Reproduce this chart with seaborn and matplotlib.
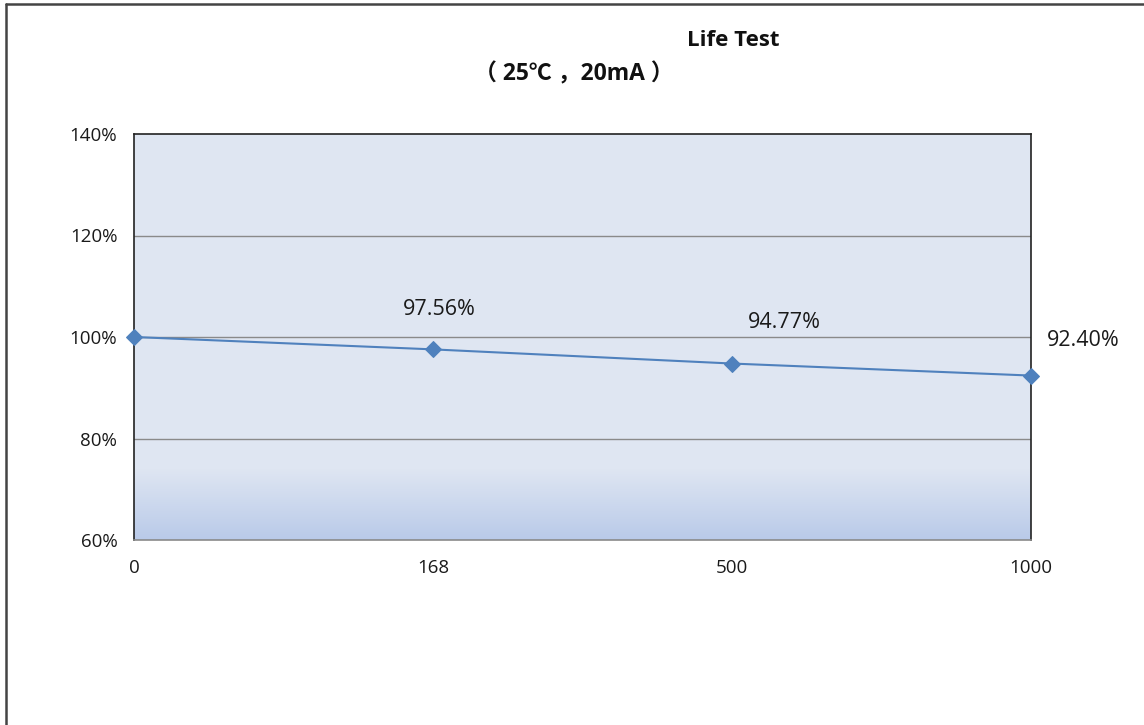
import matplotlib
matplotlib.use("Agg")
import matplotlib.pyplot as plt
import numpy as np
import pandas as pd
import seaborn as sns
from matplotlib.colors import LinearSegmentedColormap
from matplotlib.lines import Line2D

# datos del ensayo de vida
hours = ["0", "168", "500", "1000"]
retention = [100.0, 97.56, 94.77, 92.40]
point_labels = ["", "97.56%", "94.77%", "92.40%"]
yticks = [60, 80, 100, 120, 140]

df = pd.DataFrame({"pos": np.arange(len(hours)), "hours": hours, "retention": retention})

sns.set_theme(style="white")
plt.rcParams["font.family"] = ["Open Sans", "Noto Sans CJK SC", "DejaVu Sans"]

fig = plt.figure(figsize=(11.44, 7.25), dpi=100)
ax = fig.add_axes([134 / 1144, 1 - 540 / 725, (1031 - 134) / 1144, (540 - 134) / 725])

# fondo con degradado en la parte baja (fila 0 = arriba)
grad = np.ones((406, 1))
n_grad = 72
grad[-n_grad:, 0] = np.linspace(1.0, 0.0, n_grad)
cmap = LinearSegmentedColormap.from_list("bg", ["#b9cae9", "#dfe6f2"])
ax.imshow(grad, extent=[0, 1, 0, 1], transform=ax.transAxes, aspect="auto",
          cmap=cmap, vmin=0, vmax=1, zorder=0)

for y in yticks[1:-1]:
    ax.axhline(y, color="#8a8a8a", lw=1.0, zorder=1)

sns.lineplot(data=df, x="pos", y="retention", ax=ax, color="#4f81bd", lw=1.5,
             marker="D", markersize=8, markeredgecolor="#4f81bd", zorder=3, clip_on=False)

offsets = [(0, 0), (6, 40), (52, 41), (52, 35)]
for x, y, lab, off in zip(df["pos"], df["retention"], point_labels, offsets):
    if lab:
        ax.annotate(lab, (x, y), xytext=off, textcoords="offset pixels",
                    ha="center", va="center", fontsize=15.5, color="#1a1a1a")

ax.set_xlim(0, len(hours) - 1)
ax.set_ylim(60, 140)
ax.set_xticks(df["pos"])
ax.set_xticklabels(hours)
ax.set_yticks(yticks)
ax.set_yticklabels([f"{v}%" for v in yticks])
ax.tick_params(axis="both", length=0, labelsize=13.5, colors="#1a1a1a")
ax.tick_params(axis="x", pad=14)
ax.tick_params(axis="y", pad=12)
ax.set_xlabel("")
ax.set_ylabel("")
for side in ["left", "right", "top"]:
    ax.spines[side].set_color("#222222")
    ax.spines[side].set_linewidth(1.2)
ax.spines["bottom"].set_color("#8a8a8a")
ax.spines["bottom"].set_linewidth(1.2)

fig.text(733 / 1144, 1 - 40 / 725, "Life Test", ha="center", va="center",
         fontsize=16, fontweight="bold", color="#111111")
fig.text(574 / 1144, 1 - 74 / 725, "（ 25℃ ，20mA ）", ha="center", va="center",
         fontsize=16.5, fontweight="bold", color="#111111")

# borde de la figura
fig.add_artist(Line2D([6 / 1144, 6 / 1144], [0, 1 - 4 / 725], color="#444444", lw=1.8))
fig.add_artist(Line2D([6 / 1144, 1], [1 - 4 / 725, 1 - 4 / 725], color="#444444", lw=1.8))

fig.savefig("out.png", dpi=100)
